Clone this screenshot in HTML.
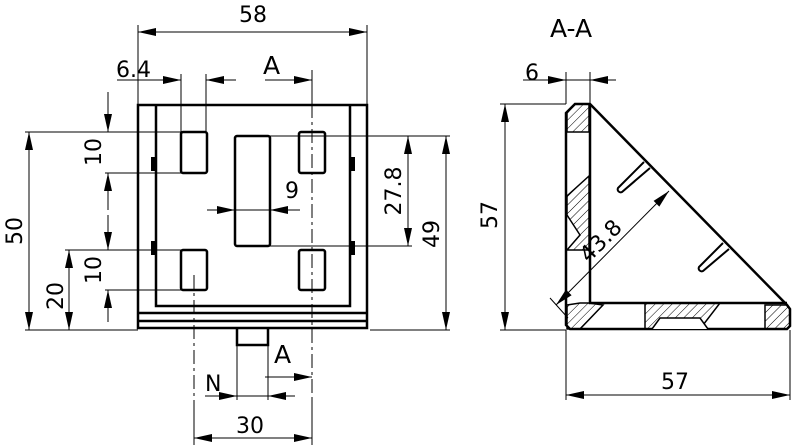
<!DOCTYPE html>
<html><head><meta charset="utf-8"><style>
html,body{margin:0;padding:0;background:#fff}
svg{display:block}
text{font-family:"DejaVu Sans","Liberation Sans",sans-serif;fill:#000}
</style></head><body>
<svg width="792" height="445" viewBox="0 0 792 445" xmlns="http://www.w3.org/2000/svg">
<defs>
<pattern id="h" width="6" height="6" patternUnits="userSpaceOnUse" patternTransform="rotate(45)">
<line x1="0" y1="0" x2="0" y2="6" stroke="#000" stroke-width="1"/>
</pattern>
</defs>
<g stroke="#000" fill="none">
<g stroke-width="2.5">
<rect x="138" y="105" width="229" height="223"/>
<path d="M156,106V306H350V106"/>
<line x1="139" y1="313" x2="366" y2="313"/>
<line x1="139" y1="321" x2="366" y2="321"/>
<path d="M237,329V345H268V329"/>
<rect x="181" y="132" width="26" height="41" rx="2"/>
<rect x="299" y="132" width="26" height="41" rx="2"/>
<rect x="181" y="250" width="26" height="40" rx="2"/>
<rect x="299" y="250" width="26" height="40" rx="2"/>
<rect x="235" y="136" width="35" height="110" rx="2"/>
</g>
<g fill="#000" stroke="none">
<rect x="151" y="157" width="5" height="14"/><rect x="151" y="241" width="5" height="14"/>
<rect x="350" y="157" width="5" height="14"/><rect x="350" y="241" width="5" height="14"/>
</g>
<g stroke-width="1">
<line x1="312" y1="70" x2="312" y2="104"/>
<line x1="312" y1="104" x2="312" y2="400" stroke-dasharray="14,4,3,4"/>
<line x1="194" y1="275" x2="194" y2="400" stroke-dasharray="14,4,3,4"/>
<line x1="138" y1="25" x2="138" y2="104"/><line x1="367" y1="25" x2="367" y2="104"/>
<line x1="138" y1="32" x2="367" y2="32"/>
<line x1="181" y1="74" x2="181" y2="132"/><line x1="206" y1="74" x2="206" y2="132"/>
<line x1="117" y1="80" x2="181" y2="80"/>
<line x1="236" y1="80" x2="206" y2="80"/>
<line x1="265" y1="80" x2="312" y2="80"/>
<line x1="25" y1="132" x2="181" y2="132"/><line x1="105" y1="173" x2="181" y2="173"/>
<line x1="65" y1="250" x2="181" y2="250"/><line x1="105" y1="290" x2="181" y2="290"/>
<line x1="25" y1="330" x2="138" y2="330"/>
<line x1="108" y1="92" x2="108" y2="132"/>
<line x1="108" y1="210" x2="108" y2="173"/>
<line x1="108" y1="215" x2="108" y2="250"/>
<line x1="108" y1="322" x2="108" y2="290"/>
<line x1="29" y1="132" x2="29" y2="330"/>
<line x1="69" y1="250" x2="69" y2="330"/>
<line x1="270" y1="136" x2="412" y2="136"/><line x1="270" y1="246" x2="412" y2="246"/>
<line x1="326" y1="136" x2="450" y2="136"/><line x1="370" y1="330" x2="450" y2="330"/>
<line x1="408" y1="136" x2="408" y2="246"/>
<line x1="446" y1="136" x2="446" y2="330"/>
<line x1="207" y1="210" x2="300" y2="210"/>
<line x1="268" y1="345" x2="268" y2="400"/><line x1="237" y1="345" x2="237" y2="400"/>
<line x1="205" y1="396" x2="295" y2="396"/>
<line x1="265" y1="377" x2="312" y2="377"/>
<line x1="194" y1="400" x2="194" y2="445"/><line x1="312" y1="400" x2="312" y2="445"/>
<line x1="194" y1="438" x2="312" y2="438"/>
</g>
<g stroke-width="2.5">
<path d="M575,104H590L787,305L790,309V326L787,329H570L566,325V113Z"/>
<path d="M590,104V303H787"/>
</g>
<g stroke-width="1.5" fill="url(#h)">
<path d="M575,104H589V132H567V113Z"/>
<path d="M589,176L567,196V215L580,235L567,250L589,250Z"/>
<path d="M567,305L580,303H589L603,305L580,329H567Z"/>
<path d="M645,303H720L700,329H645Z"/>
<path d="M765,305H787L790,309V326L787,329H765Z"/>
</g>
<path d="M652,329L660,318H700L708,329" stroke-width="1.5" fill="#fff"/>
<g stroke-width="2">
<path d="M644,162L618,188a3,3 0 0 0 4,4L650,168"/>
<path d="M723,243L699,267a3,3 0 0 0 4,4L729,249"/>
</g>
<g stroke-width="1">
<line x1="566" y1="72" x2="566" y2="104"/><line x1="590" y1="72" x2="590" y2="104"/>
<line x1="523" y1="80" x2="616" y2="80"/>
<line x1="500" y1="104" x2="566" y2="104"/><line x1="500" y1="330" x2="566" y2="330"/>
<line x1="505" y1="104" x2="505" y2="330"/>
<line x1="566" y1="330" x2="566" y2="400"/><line x1="790" y1="330" x2="790" y2="400"/>
<line x1="566" y1="395" x2="790" y2="395"/>
<line x1="556" y1="305" x2="669" y2="191"/>
<line x1="550" y1="298" x2="568" y2="318"/>
</g>
</g>
<g fill="#000" stroke="none">
<polygon points="138,32 156,28 156,36"/>
<polygon points="367,32 349,28 349,36"/>
<polygon points="181,80 163,76 163,84"/>
<polygon points="206,80 224,76 224,84"/>
<polygon points="312,80 294,76 294,84"/>
<polygon points="108,132 104,114 112,114"/>
<polygon points="108,173 104,191 112,191"/>
<polygon points="108,250 104,232 112,232"/>
<polygon points="108,290 104,308 112,308"/>
<polygon points="29,132 25,150 33,150"/>
<polygon points="29,330 25,312 33,312"/>
<polygon points="69,250 65,268 73,268"/>
<polygon points="69,330 65,312 73,312"/>
<polygon points="408,136 404,154 412,154"/>
<polygon points="408,246 404,228 412,228"/>
<polygon points="446,136 442,154 450,154"/>
<polygon points="446,330 442,312 450,312"/>
<polygon points="235,210 217,206 217,214"/>
<polygon points="270,210 288,206 288,214"/>
<polygon points="237,396 219,392 219,400"/>
<polygon points="268,396 286,392 286,400"/>
<polygon points="312,377 294,373 294,381"/>
<polygon points="194,438 212,434 212,442"/>
<polygon points="312,438 294,434 294,442"/>
<polygon points="566,80 548,76 548,84"/>
<polygon points="590,80 608,76 608,84"/>
<polygon points="505,104 501,122 509,122"/>
<polygon points="505,330 501,312 509,312"/>
<polygon points="566,395 584,391 584,399"/>
<polygon points="790,395 772,391 772,399"/>
<polygon points="556,305 571.6,295.3 565.9,289.6"/>
<polygon points="669,191 659.3,206.6 653.6,200.9"/>
</g>
<g font-size="22">
<text x="239" y="22">58</text>
<text x="116" y="77">6.4</text>
<text x="263" y="74" font-size="25">A</text>
<text x="274" y="363" font-size="25">A</text>
<text x="285" y="198">9</text>
<text x="205" y="391">N</text>
<text x="236" y="433">30</text>
<text x="661" y="389">57</text>
<text x="525" y="80">6</text>
<text x="550" y="37" font-size="25">A-A</text>
<text transform="translate(22,231) rotate(-90)" text-anchor="middle">50</text>
<text transform="translate(63,296) rotate(-90)" text-anchor="middle">20</text>
<text transform="translate(101,152) rotate(-90)" text-anchor="middle">10</text>
<text transform="translate(101,270) rotate(-90)" text-anchor="middle">10</text>
<text transform="translate(401,191) rotate(-90)" text-anchor="middle">27.8</text>
<text transform="translate(439,234) rotate(-90)" text-anchor="middle">49</text>
<text transform="translate(497,215) rotate(-90)" text-anchor="middle">57</text>
<text transform="translate(606,246) rotate(-45)" text-anchor="middle">43.8</text>
</g>
</svg>
</body></html>
